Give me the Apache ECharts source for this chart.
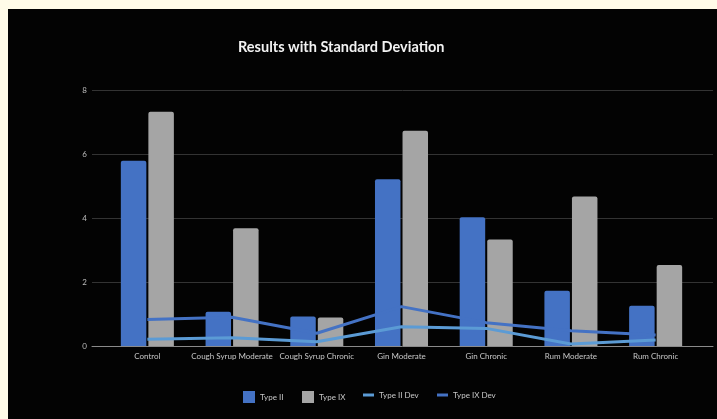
<!DOCTYPE html>
<html>
<head>
<meta charset="utf-8">
<script src="https://cdn.jsdelivr.net/npm/echarts@6/dist/echarts.min.js"></script>
<style>
  html, body { margin: 0; padding: 0; background: #fffbe8; width: 717px; height: 419px; overflow: hidden; }
  #panel { position: absolute; left: 8px; top: 9px; width: 709px; height: 410px; background: #030303; }
  #chart { width: 709px; height: 410px; }
</style>
</head>
<body>
<div id="panel"><div id="chart"></div></div>
<script>
// Treatment groups along the x axis
const categories = ['Control', 'Cough Syrup Moderate', 'Cough Syrup Chronic', 'Gin Moderate', 'Gin Chronic', 'Rum Moderate', 'Rum Chronic'];
// Mean values per collagen type
const typeII = [5.79, 1.07, 0.92, 5.21, 4.02, 1.73, 1.26];
const typeIX = [7.32, 3.68, 0.89, 6.73, 3.33, 4.67, 2.53];
// Standard deviations
const typeIIDev = [0.21, 0.26, 0.13, 0.60, 0.55, 0.06, 0.19];
const typeIXDev = [0.83, 0.90, 0.40, 1.23, 0.73, 0.48, 0.34];
// Value axis ticks
const yTicks = [0, 2, 4, 6, 8];

const FONT = 'Lato';
const labelColor = '#c8c8c8';

const chart = echarts.init(document.getElementById('chart'), null, { renderer: 'canvas' });

function legendAt(name, left, icon, w, h) {
  return {
    data: [{ name: name, icon: icon }],
    left: left, top: 382,
    itemWidth: w, itemHeight: h, itemGap: 0, itemTextGap: 8,
    padding: 0,
    selectedMode: false,
    textStyle: { color: labelColor, fontSize: 8, fontFamily: FONT }
  };
}

chart.setOption({
  backgroundColor: 'transparent',
  animation: false,
  graphic: [{
    type: 'text', left: 230, top: 31,
    style: { text: 'Results with Standard Deviation', fill: '#f2f2f2', font: 'bold 14.5px ' + FONT }
  }],
  legend: [
    legendAt('Type II', 235, 'rect', 12, 12),
    legendAt('Type IX', 294, 'rect', 12, 12),
    legendAt('Type II Dev', 355, 'rect', 11, 3),
    legendAt('Type IX Dev', 429, 'rect', 11, 3)
  ],
  grid: [
    { left: 84, right: 4, top: 81, bottom: 73 },
    { left: 97, right: 19, top: 81, bottom: 73 }
  ],
  xAxis: [
    {
      gridIndex: 0, type: 'value', min: 0, max: 1,
      axisLine: { show: true, lineStyle: { color: '#8a8a8a', width: 1 } },
      axisTick: { show: false }, axisLabel: { show: false }, splitLine: { show: false }
    },
    {
      gridIndex: 1, type: 'category', data: categories,
      axisLine: { show: false }, axisTick: { show: false },
      axisLabel: { color: labelColor, fontSize: 8, fontFamily: FONT, margin: 6, interval: 0 }
    }
  ],
  yAxis: [
    {
      gridIndex: 0, type: 'value', min: yTicks[0], max: yTicks[yTicks.length - 1], interval: 2,
      axisLine: { show: false }, axisTick: { show: false },
      axisLabel: { color: '#bdbdbd', fontSize: 8, fontFamily: FONT, margin: 5 },
      splitLine: { show: true, lineStyle: { color: '#333333', width: 1 } }
    },
    {
      gridIndex: 1, type: 'value', min: yTicks[0], max: yTicks[yTicks.length - 1], interval: 2,
      show: false
    }
  ],
  series: [
    {
      name: 'Type II', type: 'bar', xAxisIndex: 1, yAxisIndex: 1, data: typeII,
      barWidth: 25.5, barGap: '8%',
      itemStyle: { color: '#4472c4', borderRadius: [2, 2, 0, 0] }
    },
    {
      name: 'Type IX', type: 'bar', xAxisIndex: 1, yAxisIndex: 1, data: typeIX,
      barWidth: 25.5, barGap: '8%',
      itemStyle: { color: '#a5a5a5', borderRadius: [2, 2, 0, 0] }
    },
    {
      name: 'Type IX Dev', type: 'line', xAxisIndex: 1, yAxisIndex: 1, data: typeIXDev,
      symbol: 'none', lineStyle: { color: '#4472c4', width: 3 }, itemStyle: { color: '#4472c4' }
    },
    {
      name: 'Type II Dev', type: 'line', xAxisIndex: 1, yAxisIndex: 1, data: typeIIDev,
      symbol: 'none', lineStyle: { color: '#5b9bd5', width: 3 }, itemStyle: { color: '#5b9bd5' }
    }
  ]
});
</script>
</body>
</html>
